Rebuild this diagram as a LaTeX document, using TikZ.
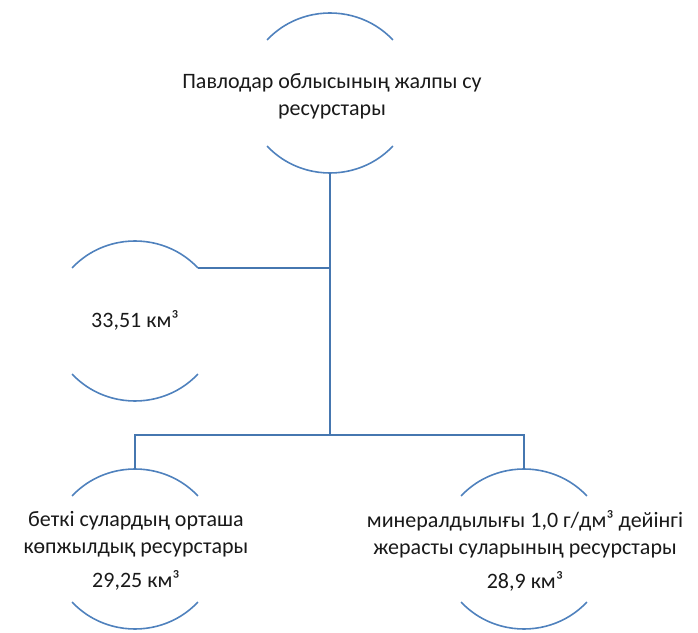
\documentclass[tikz,border=0pt]{standalone}
\usepackage{fontspec}
\setmainfont{Carlito}
\definecolor{arccol}{HTML}{4F81BD}
\definecolor{conncol}{HTML}{4677B0}
\tikzset{
  arcline/.style={draw=arccol, line width=1.6pt},
  conn/.style={draw=conncol, line width=2.4pt},
  lbl/.style={align=center, inner sep=0pt, font=\fontsize{22}{27}\selectfont, text=black!90}
}
\newcommand{\bracketshape}[2]{%
  \draw[arcline] ([shift={(#1,#2)}]41.5:84pt and 80pt) arc[start angle=41.5, end angle=138.5, x radius=84pt, y radius=80pt];
  \draw[arcline] ([shift={(#1,#2)}]-41.5:84pt and 80pt) arc[start angle=-41.5, end angle=-138.5, x radius=84pt, y radius=80pt];
}
\begin{document}
\begin{tikzpicture}[x=1pt,y=1pt]
\useasboundingbox (0,0) rectangle (698,632);
% shapes
\bracketshape{330}{539}
\bracketshape{135}{311}
\bracketshape{135}{83}
\bracketshape{524}{83}
% texts
\node[lbl] (top) at (332,536) {Павлодар облысының жалпы су\\ресурстары};
\node[lbl] (left) at (135,312) {33,51 км³};
\node[lbl] (bl) at (136,81) {беткі сулардың орташа\\көпжылдық ресурстары\\[7pt]29,25 км³};
\node[lbl] (br) at (525,81) {минералдылығы 1,0 г/дм³ дейінгі\\жерасты суларының ресурстары\\[7pt]28,9 км³};
% connector anchors
\coordinate (tB) at (330,459);
\coordinate (lR) at (198,364);
\coordinate (bus) at (330,197);
\coordinate (blT) at (135,163);
\coordinate (brT) at (524,163);
% connectors
\draw[conn] (tB) -- (bus);
\draw[conn] (lR) -- (lR -| tB);
\draw[conn] (blT) -- (blT |- bus) -- (brT |- bus) -- (brT);
\end{tikzpicture}
\end{document}
